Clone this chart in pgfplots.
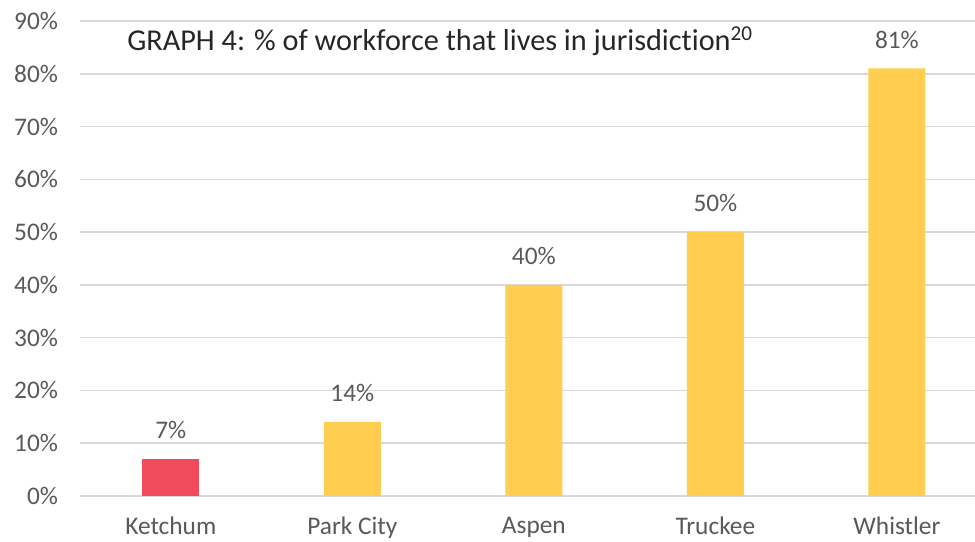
\documentclass[border=0pt]{standalone}
\usepackage{pgfplots}
\pgfplotsset{compat=1.18}
\usepackage{fontspec}
\setmainfont{Carlito}[Ligatures=CommonOff]

\definecolor{barred}{RGB}{240,75,90}
\definecolor{baryellow}{RGB}{255,206,80}
\definecolor{ticktext}{RGB}{89,89,89}
\definecolor{gridgray}{RGB}{217,217,217}

\begin{document}
\begin{tikzpicture}
    % page = 975x542 px at 0.75pt per px
    \useasboundingbox (-60pt,-34.5pt) rectangle (671.25pt,372pt);
    \begin{axis}[
        at={(0,0)}, anchor=south west,
        scale only axis,
        width=671.25pt, height=356.25pt,
        xmin=-0.5, xmax=4.43,
        ymin=0, ymax=90,
        axis line style={draw=none},
        ymajorgrids,
        grid style={gridgray, line width=1.2pt},
        ytick={0,10,...,90},
        xtick={0,1,2,3,4},
        xticklabels={Ketchum, Park City, Aspen, Truckee, Whistler},
        yticklabel={\pgfmathprintnumber{\tick}\%},
        /pgf/number format/assume math mode=true,
        ticklabel style={font=\fontsize{19}{21}\selectfont, text=ticktext},
        yticklabel style={xshift=-13pt},
        xticklabel style={yshift=-12.5pt},
        major tick length=0pt,
        ybar, bar width=42.75pt, bar shift=0pt,
        nodes near coords={\pgfmathprintnumber{\pgfplotspointmeta}\%},
        nodes near coords style={font=\fontsize{19}{21}\selectfont, text=ticktext,
            anchor=south, inner sep=0pt, yshift=15pt},
        clip=false,
    ]
    % Ketchum
    \addplot[fill=barred, draw=none] coordinates {(0,7)};
    % others
    \addplot[fill=baryellow, draw=none] coordinates {
        (1,14) (2,40) (3,50) (4,81)
    };
    \node[anchor=west, inner sep=0pt, text={rgb,255:red,38;green,38;blue,38},
          font=\fontsize{22.7}{25}\selectfont]
        at (axis description cs:0.0525,0.958)
        {GRAPH 4: \% of workforce that lives in jurisdiction\textsuperscript{20}};
    \end{axis}
\end{tikzpicture}
\end{document}
